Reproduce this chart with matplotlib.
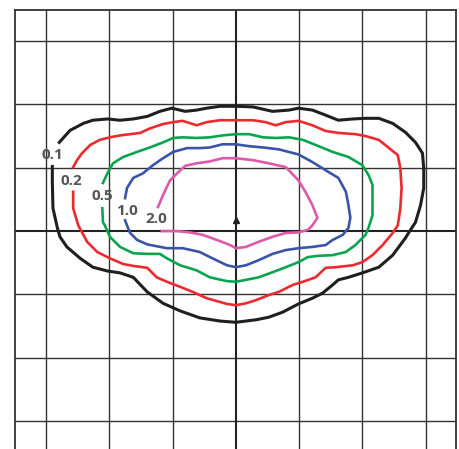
import matplotlib
matplotlib.use("Agg")
import matplotlib.pyplot as plt

# Isolux curves (grid units = mounting heights), traced clockwise, open at the label
niveles = ["0.1", "0.2", "0.5", "1.0", "2.0"]
colores = ["#1f1f1f", "#ec2a2f", "#0aa54f", "#3a55a8", "#dc5aa8"]

x_01 = [-2.79, -2.62, -2.41, -2.26, -2.03, -1.83, -1.62, -1.40, -1.20, -1.01, -0.80, -0.62, -0.46, -0.25,
        0.02, 0.27, 0.58, 0.84, 0.99, 1.21, 1.42, 1.62, 1.85, 2.05, 2.26, 2.48, 2.68, 2.84, 2.95, 2.97,
        2.97, 2.92, 2.84, 2.73, 2.68, 2.48, 2.26, 2.00, 1.78, 1.62, 1.53, 1.37, 1.21, 0.99, 0.74, 0.52,
        0.32, 0.00, -0.25, -0.57, -0.88, -1.15, -1.40, -1.62, -1.83, -2.03, -2.26, -2.46, -2.67, -2.78,
        -2.82, -2.89, -2.90, -2.90]
y_01 = [1.40, 1.59, 1.70, 1.75, 1.77, 1.75, 1.77, 1.81, 1.89, 1.94, 1.89, 1.91, 1.94, 1.97,
        1.97, 1.96, 1.89, 1.91, 1.94, 1.91, 1.83, 1.75, 1.77, 1.78, 1.78, 1.70, 1.56, 1.40, 1.23, 0.99,
        0.68, 0.41, 0.14, -0.03, -0.11, -0.38, -0.57, -0.66, -0.73, -0.77, -0.85, -0.98, -1.06, -1.15,
        -1.28, -1.36, -1.40, -1.44, -1.42, -1.37, -1.26, -1.14, -0.96, -0.73, -0.66, -0.63, -0.57, -0.43,
        -0.25, -0.09, 0.05, 0.36, 0.77, 1.02]

x_02 = [-2.57, -2.51, -2.43, -2.30, -2.15, -1.99, -1.83, -1.67, -1.51, -1.36, -1.15, -0.99, -0.84, -0.62,
        -0.46, -0.25, 0.02, 0.27, 0.47, 0.63, 0.79, 0.99, 1.21, 1.42, 1.62, 1.89, 2.05, 2.26, 2.41, 2.56,
        2.60, 2.62, 2.60, 2.56, 2.48, 2.32, 2.16, 2.00, 1.85, 1.58, 1.42, 1.26, 1.06, 0.90, 0.68, 0.52,
        0.32, 0.16, 0.00, -0.14, -0.46, -0.68, -0.88, -1.09, -1.25, -1.40, -1.62, -1.78, -1.99, -2.19,
        -2.35, -2.49, -2.57, -2.57]
y_02 = [1.01, 1.12, 1.23, 1.36, 1.44, 1.48, 1.51, 1.53, 1.55, 1.62, 1.69, 1.72, 1.74, 1.67,
        1.72, 1.75, 1.75, 1.75, 1.72, 1.67, 1.72, 1.74, 1.67, 1.58, 1.55, 1.53, 1.50, 1.44, 1.32, 1.20,
        0.99, 0.68, 0.36, 0.09, -0.03, -0.22, -0.38, -0.49, -0.54, -0.57, -0.58, -0.73, -0.80, -0.85,
        -0.96, -1.01, -1.09, -1.14, -1.17, -1.15, -1.06, -0.96, -0.88, -0.80, -0.73, -0.58, -0.55, -0.52,
        -0.43, -0.33, -0.17, 0.09, 0.36, 0.62]

x_05 = [-2.10, -2.03, -1.94, -1.78, -1.56, -1.36, -1.15, -0.99, -0.84, -0.62, -0.41, -0.21, 0.00, 0.21,
        0.43, 0.63, 0.84, 1.06, 1.26, 1.53, 1.78, 2.00, 2.10, 2.16, 2.16, 2.16, 2.10, 2.05, 1.89, 1.74,
        1.53, 1.31, 1.14, 0.99, 0.79, 0.58, 0.36, 0.16, 0.00, -0.14, -0.41, -0.62, -0.88, -1.09, -1.20,
        -1.40, -1.62, -1.83, -1.99, -2.07, -2.10, -2.11]
y_05 = [0.76, 0.91, 1.07, 1.17, 1.25, 1.32, 1.40, 1.47, 1.48, 1.47, 1.48, 1.51, 1.53, 1.53,
        1.48, 1.47, 1.48, 1.44, 1.36, 1.25, 1.17, 1.04, 0.88, 0.73, 0.52, 0.25, 0.06, -0.06, -0.22, -0.33,
        -0.38, -0.39, -0.41, -0.49, -0.57, -0.65, -0.73, -0.77, -0.80, -0.79, -0.73, -0.62, -0.54, -0.43,
        -0.36, -0.36, -0.35, -0.25, -0.09, 0.09, 0.14, 0.36]

x_10 = [-1.75, -1.72, -1.62, -1.47, -1.31, -1.15, -0.99, -0.77, -0.57, -0.41, -0.21, 0.00, 0.21, 0.43,
        0.68, 0.99, 1.21, 1.42, 1.62, 1.74, 1.78, 1.81, 1.78, 1.69, 1.53, 1.42, 1.21, 0.99, 0.79, 0.58,
        0.36, 0.16, 0.00, -0.14, -0.41, -0.57, -0.84, -1.09, -1.40, -1.56, -1.67, -1.72, -1.75]
y_10 = [0.52, 0.68, 0.84, 0.91, 1.04, 1.15, 1.25, 1.31, 1.31, 1.32, 1.37, 1.37, 1.34, 1.32,
        1.29, 1.21, 1.09, 0.96, 0.84, 0.62, 0.41, 0.21, 0.05, -0.06, -0.14, -0.22, -0.25, -0.27, -0.30, -0.36,
        -0.46, -0.54, -0.57, -0.54, -0.41, -0.33, -0.27, -0.27, -0.21, -0.14, -0.03, 0.09, 0.17]

x_20 = [-1.23, -1.15, -1.04, -0.93, -0.80, -0.62, -0.41, -0.21, 0.00, 0.27, 0.52, 0.79, 0.99, 1.10,
        1.21, 1.29, 1.21, 1.14, 0.99, 0.79, 0.58, 0.36, 0.16, 0.00, -0.09, -0.30, -0.52, -0.73, -0.93, -1.17]
y_20 = [0.38, 0.57, 0.80, 0.91, 1.03, 1.07, 1.10, 1.15, 1.15, 1.12, 1.07, 1.01, 0.80, 0.62,
        0.41, 0.21, 0.09, 0.02, -0.02, -0.03, -0.09, -0.17, -0.25, -0.27, -0.22, -0.14, -0.06, -0.02, 0.00, 0.00]

curvas_x = [x_01, x_02, x_05, x_10, x_20]
curvas_y = [y_01, y_02, y_05, y_10, y_20]

# donde van las etiquetas (hueco de cada curva)
etiqueta_x = [-2.90, -2.60, -2.11, -1.72, -1.25]
etiqueta_y = [1.20, 0.79, 0.55, 0.32, 0.19]

lineas = [-3, -2, -1, 1, 2, 3]

fig = plt.figure(figsize=(4.59, 4.49), dpi=100)
ax = fig.add_axes([15 / 459, 0, 441 / 459, 439 / 449])

# cuadricula
for v in lineas:
    ax.axvline(v, color="#333333", lw=1.0, zorder=1)
    ax.axhline(v, color="#333333", lw=1.0, zorder=1)
ax.axvline(0, color="#222222", lw=1.5, zorder=1)
ax.axhline(0, color="#222222", lw=1.5, zorder=1)

for cx, cy, col in zip(curvas_x, curvas_y, colores):
    lw = 2.2 if col == "#1f1f1f" else 1.9
    ax.plot(cx, cy, color=col, lw=lw, solid_joinstyle="round", zorder=3)

for nivel, tx, ty in zip(niveles, etiqueta_x, etiqueta_y):
    ax.text(tx, ty, nivel, ha="center", va="center", fontsize=11, fontweight="bold",
            color="#555555", family=["Open Sans", "DejaVu Sans"], zorder=4)

# punto de la luminaria
ax.plot(0, 0.17, marker="^", ms=4, color="#222222", zorder=4)

ax.set_xlim(-3.49, 3.48)
ax.set_ylim(-3.44, 3.49)
ax.set_xticks([])
ax.set_yticks([])
for lado in ["top", "left", "right"]:
    ax.spines[lado].set_linewidth(1.3)
    ax.spines[lado].set_color("#333333")
ax.spines["bottom"].set_visible(False)

fig.savefig("out.png", dpi=100)
